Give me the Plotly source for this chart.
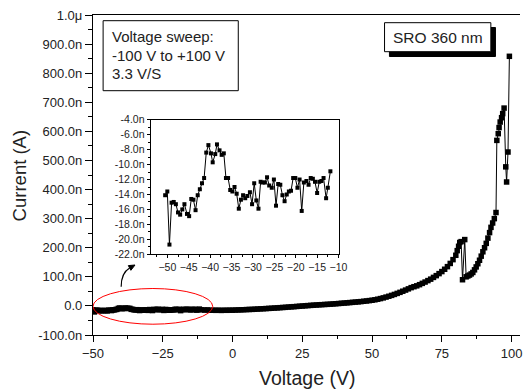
import plotly.graph_objects as go

# ---------------- data (Voltage in V, Current in nA) ----------------
volt_low = [-50.5, -50.0, -49.5, -49.0, -48.5, -48.0, -47.5, -47.0, -46.5, -46.0,
            -45.4, -44.9, -44.4, -43.9, -43.4, -42.9, -42.4, -41.9, -41.4, -40.9,
            -40.4, -39.8, -39.4, -38.8, -38.4, -37.8, -37.3, -36.8, -36.3, -35.8,
            -35.3, -34.8, -34.3, -33.8, -33.3, -32.8, -32.3, -31.8, -31.3, -30.7,
            -30.2, -29.7, -29.2, -28.7, -28.2, -27.7, -27.2, -26.7, -26.2, -25.6,
            -25.1, -24.6, -24.1, -23.6, -23.1, -22.6, -22.1, -21.6, -21.1, -20.6,
            -20.1, -19.6, -19.1, -18.6, -18.1, -17.5, -17.0, -16.5, -16.0, -15.5,
            -15.0, -14.5, -14.0, -13.5, -12.9, -12.5, -11.9]
curr_low = [-14.1, -13.6, -20.7, -15.1, -15.0, -15.3, -16.4, -16.7, -16.0, -15.3,
            -16.6, -16.9, -14.6, -14.7, -16.1, -14.1, -13.3, -12.5, -11.8, -8.4,
            -7.4, -8.5, -9.7, -8.6, -7.3, -8.1, -8.7, -8.5, -11.8, -11.8,
            -13.4, -13.6, -13.0, -13.9, -15.9, -14.7, -14.1, -14.5, -14.2, -13.7,
            -15.3, -12.5, -14.8, -15.9, -12.3, -12.4, -12.4, -11.7, -12.8, -13.1,
            -12.0, -15.5, -12.6, -12.7, -14.1, -14.9, -14.0, -13.6, -13.5, -11.8,
            -11.8, -13.1, -12.0, -16.2, -12.4, -12.2, -12.7, -11.8, -11.9, -12.3,
            -13.8, -12.3, -12.2, -11.8, -14.5, -13.1, -10.9]

volt_mid = [-11, -10, -9, -8, -7, -6, -5, -4, -3, -2, -1, 0, 1, 2, 3, 4, 5, 6, 7, 8, 9,
            10, 11, 12, 13, 14, 15, 16, 17, 18, 19, 20, 21, 22, 23, 24, 25, 26, 27, 28,
            29, 30, 31, 32, 33, 34, 35, 36, 37, 38, 39, 40, 41, 42, 43, 44, 45, 46, 47,
            48, 49, 50, 51, 52, 53, 54, 55, 56, 57, 58, 59, 60, 61, 62, 63, 64, 65, 66,
            67, 68, 69, 70, 71, 72, 73, 74, 75, 76, 77, 78, 79, 80]
curr_mid = [-13.5, -14.2, -13.8, -15.0, -14.6, -15.2, -14.8, -15.5, -14.9, -15.1, -14.6,
            -14.8, -14.2, -13.9, -13.5, -13.1, -12.6, -12.2, -11.9, -11.3, -10.8,
            -10.2, -9.7, -9.1, -8.6, -8.0, -7.3, -6.8, -6.1, -5.4, -4.8,
            -4.0, -3.3, -2.6, -1.9, -1.1, -0.4, 0.4, 1.1, 1.8, 2.5,
            3.1, 3.7, 4.3, 4.9, 5.4, 6.0, 6.7, 7.5, 8.2, 9.0,
            9.8, 10.6, 11.4, 12.3, 13.1, 14.0, 14.8, 15.9, 17.0, 18.2,
            19.5, 21.0, 23.0, 25.2, 27.6, 30.3, 33.1, 36.2, 39.5, 43.0,
            46.6, 50.5, 54.4, 58.6, 62.8, 66.0, 69.0, 73.0, 77.5, 82.0,
            87.0, 92.0, 98.0, 104.0, 111.0, 118.0, 126.0, 135.0, 146.0, 159.0, 174.0]

volt_high = [80.5, 81.0, 81.4, 81.9, 82.4, 83.2, 83.7, 84.3, 84.9, 85.5, 86.1, 86.7,
             87.3, 87.9, 88.5, 89.1, 89.7, 90.3, 90.9, 91.5, 92.1, 92.6, 93.2, 93.8,
             94.4, 94.7, 95.2, 95.5, 95.9, 96.4, 96.8, 97.3, 97.9, 98.2, 98.7, 99.2]
curr_high = [190, 205, 218, 221, 90, 228, 100, 103, 106, 110, 115, 124,
             134, 145, 157, 171, 186, 200, 215, 233, 252, 270, 285, 300,
             321, 569, 592, 613, 632, 647, 661, 680, 478, 426, 529, 858]

voltage = volt_low + volt_mid + volt_high
current = curr_low + curr_mid + curr_high

y_tickvals = [-100, 0, 100, 200, 300, 400, 500, 600, 700, 800, 900, 1000]
y_ticktext = ["-100.0n", "0.0", "100.0n", "200.0n", "300.0n", "400.0n", "500.0n",
              "600.0n", "700.0n", "800.0n", "900.0n", "1.0\u03bc"]
x_tickvals = [-50, -25, 0, 25, 50, 75, 100]

inset_y_tickvals = [-22, -20, -18, -16, -14, -12, -10, -8, -6, -4]
inset_y_ticktext = ["-22.0n", "-20.0n", "-18.0n", "-16.0n", "-14.0n", "-12.0n",
                    "-10.0n", "-8.0n", "-6.0n", "-4.0n"]
inset_x_tickvals = [-50, -45, -40, -35, -30, -25, -20, -15, -10]

inset_v = [v for v in voltage if -51 <= v <= -11.5]
inset_c = [c for v, c in zip(voltage, current) if -51 <= v <= -11.5]

# ---------------- layout geometry (pixels) ----------------
W, H = 529, 392
L, R, T, B = 93, 528, 15, 335
FONT = "Liberation Sans, Arial, sans-serif"
TXT = "#222222"


def px(xp, yp):
    return (xp - L) / (R - L), (B - yp) / (B - T)


fig = go.Figure()
fig.add_trace(go.Scatter(
    x=voltage, y=current, mode="lines+markers",
    line=dict(color="black", width=1),
    marker=dict(symbol="square", size=5.5, color="black"),
    xaxis="x", yaxis="y", showlegend=False, hoverinfo="skip"))
fig.add_trace(go.Scatter(
    x=inset_v, y=inset_c, mode="lines+markers",
    line=dict(color="black", width=1),
    marker=dict(symbol="square", size=4, color="black"),
    xaxis="x2", yaxis="y2", showlegend=False, hoverinfo="skip", cliponaxis=False))

ix0, iy0 = px(151.7, 254.3)
ix1, iy1 = px(344, 119.7)

fig.update_layout(
    width=W, height=H,
    margin=dict(l=L, r=W - R, t=T, b=H - B, pad=0),
    paper_bgcolor="white", plot_bgcolor="white",
    font=dict(family=FONT, color=TXT),
    xaxis=dict(range=[-50, 103], domain=[0, 1], tickmode="array", tickvals=x_tickvals,
               ticks="outside", ticklen=6, tickwidth=1, tickcolor="black",
               showline=True, linecolor="black", linewidth=1.2, mirror=True,
               showgrid=False, zeroline=False, tickfont=dict(size=13, color=TXT),
               minor=dict(dtick=12.5, tick0=-50, ticks="outside", ticklen=3,
                          tickcolor="black", showgrid=False)),
    yaxis=dict(range=[-100, 1000], domain=[0, 1], tickmode="array", tickvals=y_tickvals,
               ticktext=y_ticktext,
               ticks="outside", ticklen=7, tickwidth=1, tickcolor="black",
               showline=True, linecolor="black", linewidth=1.2,
               showgrid=False, zeroline=False, tickfont=dict(size=13, color=TXT),
               minor=dict(dtick=50, tick0=0, ticks="outside", ticklen=3.5,
                          tickcolor="black", showgrid=False)),
    xaxis2=dict(range=[-53.9, -9.8], domain=[ix0, ix1], anchor="y2",
                tickmode="array", tickvals=inset_x_tickvals,
                ticks="outside", ticklen=3, tickcolor="black",
                showline=True, linecolor="black", linewidth=1, mirror=True,
                showgrid=False, zeroline=False, tickfont=dict(size=10.5, color=TXT),
                minor=dict(dtick=2.5, tick0=-50, ticks="outside", ticklen=2,
                           tickcolor="black", showgrid=False)),
    yaxis2=dict(range=[-22, -4], domain=[iy0, iy1], anchor="x2",
                tickmode="array", tickvals=inset_y_tickvals, ticktext=inset_y_ticktext,
                ticks="outside", ticklen=3, tickcolor="black",
                showline=True, linecolor="black", linewidth=1, mirror=True,
                showgrid=False, zeroline=False, tickfont=dict(size=10.5, color=TXT),
                minor=dict(dtick=1, tick0=-22, ticks="outside", ticklen=2,
                           tickcolor="black", showgrid=False)),
)

shapes = []
# red ellipse around the low-voltage region
shapes.append(dict(type="circle", xref="x", yref="y", x0=-50, x1=-7.1, y0=-62.9, y1=59.8,
                   line=dict(color="red", width=1), layer="above"))
# curved arrow to the inset
sx, sy = px(121.7, 286.7)
cx, cy = px(121.7, 272.9)
ex, ey = px(130.3, 268.0)
shapes.append(dict(type="path", xref="paper", yref="paper",
                   path=f"M {sx} {sy} Q {cx} {cy} {ex} {ey}",
                   line=dict(color="black", width=1.2)))
tx, ty = px(135.8, 265.0)
b1x, b1y = px(131.6, 270.3)
b2x, b2y = px(129.0, 265.6)
shapes.append(dict(type="path", xref="paper", yref="paper",
                   path=f"M {tx} {ty} L {b1x} {b1y} L {b2x} {b2y} Z",
                   fillcolor="black", line=dict(color="black", width=1)))
# voltage sweep box
a0x, a0y = px(103.3, 90.7)
a1x, a1y = px(241.0, 20.7)
shapes.append(dict(type="rect", xref="paper", yref="paper", x0=a0x, y0=a0y, x1=a1x, y1=a1y,
                   fillcolor="white", line=dict(color="black", width=1)))
# SRO box with shadow
s0x, s0y = px(395, 56.5)
s1x, s1y = px(503, 27.5)
shapes.append(dict(type="rect", xref="paper", yref="paper", x0=s0x, y0=s0y, x1=s1x, y1=s1y,
                   fillcolor="black", line=dict(color="black", width=1)))
r0x, r0y = px(390, 51.7)
r1x, r1y = px(498.3, 22.7)
shapes.append(dict(type="rect", xref="paper", yref="paper", x0=r0x, y0=r0y, x1=r1x, y1=r1y,
                   fillcolor="white", line=dict(color="black", width=1)))
fig.update_layout(shapes=shapes)

annotations = []
for text, yc in [("Voltage sweep:", 36.7), ("-100 V to +100 V", 55.0), ("3.3 V/S", 73.3)]:
    ax_, ay_ = px(110.5, yc)
    annotations.append(dict(text=text, xref="paper", yref="paper", x=ax_, y=ay_,
                            xanchor="left", yanchor="middle", showarrow=False,
                            font=dict(size=15, color=TXT, family=FONT)))
sxc, syc = px(444.2, 37.5)
annotations.append(dict(text="SRO 360 nm", xref="paper", yref="paper", x=sxc, y=syc,
                        xanchor="center", yanchor="middle", showarrow=False,
                        font=dict(size=15.5, color=TXT, family=FONT)))
xtx, xty = px(311, 378)
annotations.append(dict(text="Voltage (V)", xref="paper", yref="paper", x=xtx, y=xty,
                        xanchor="center", yanchor="middle", showarrow=False,
                        font=dict(size=19.5, color=TXT, family=FONT)))
ytx, yty = px(18, 175)
annotations.append(dict(text="Current (A)", xref="paper", yref="paper", x=ytx, y=yty,
                        xanchor="center", yanchor="middle", showarrow=False, textangle=-90,
                        font=dict(size=18.5, color=TXT, family=FONT)))
fig.update_layout(annotations=annotations)

fig.write_html("out.html", config={"displayModeBar": False},
               post_script="document.body.style.margin='0px';document.body.style.overflow='hidden';")
